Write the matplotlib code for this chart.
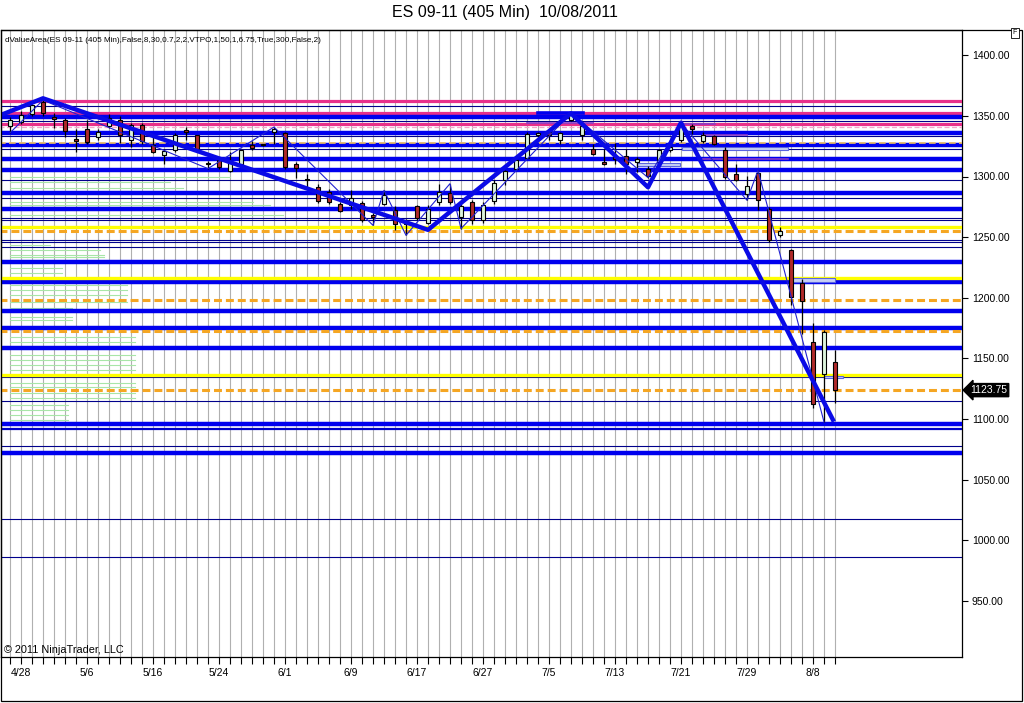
import numpy as np
import matplotlib
matplotlib.use('Agg')
import matplotlib.pyplot as plt
from matplotlib.patches import Rectangle
from matplotlib.transforms import blended_transform_factory

plt.rcParams['font.family'] = ['Liberation Sans', 'DejaVu Sans']

# one 405 min bar per session, 4/27 .. 8/10 (index 0..75)
date_labels = ['4/28', '5/6', '5/16', '5/24', '6/1', '6/9', '6/17', '6/27',
               '7/5', '7/13', '7/21', '7/29', '8/8']
label_bars = [1, 7, 13, 19, 25, 31, 37, 43, 49, 55, 61, 67, 73]

opens = [1341.4, 1345.0, 1351.3, 1361.5, 1349.0, 1347.0, 1331.0, 1339.5, 1332.6, 1342.0,
         1347.0, 1330.4, 1342.2, 1325.7, 1317.5, 1322.2, 1338.0, 1334.0, 1311.0, 1314.0,
         1304.5, 1310.1, 1325.7, 1326.5, 1336.7, 1335.9, 1310.1, 1297.5, 1291.3, 1287.2,
         1277.0, 1276.2, 1278.1, 1268.0, 1277.6, 1272.0, 1263.0, 1275.4, 1261.7, 1279.0,
         1286.4, 1266.6, 1279.0, 1263.9, 1279.8, 1296.9, 1306.5, 1315.6, 1334.5, 1336.7,
         1330.0, 1347.0, 1334.0, 1323.0, 1312.0, 1316.0, 1316.7, 1312.0, 1306.5, 1312.0,
         1321.6, 1330.0, 1341.4, 1329.3, 1333.2, 1321.6, 1301.8, 1285.3, 1302.9, 1273.5,
         1252.1, 1239.7, 1212.1, 1163.5, 1137.4, 1147.0]
highs = [1349.0, 1354.0, 1360.0, 1363.0, 1352.0, 1348.6, 1339.5, 1347.0, 1339.5, 1351.3,
         1349.7, 1344.1, 1344.1, 1332.6, 1323.0, 1336.0, 1340.8, 1334.6, 1312.5, 1316.1,
         1320.2, 1322.2, 1329.3, 1327.0, 1340.8, 1336.7, 1312.0, 1302.4, 1294.1, 1290.0,
         1279.0, 1288.6, 1279.8, 1269.9, 1288.6, 1275.4, 1265.3, 1276.2, 1276.2, 1294.1,
         1294.1, 1277.6, 1280.4, 1279.0, 1296.9, 1305.7, 1316.7, 1336.7, 1337.0, 1338.0,
         1336.7, 1352.4, 1343.6, 1327.2, 1323.0, 1327.6, 1323.0, 1316.1, 1308.4, 1323.0,
         1328.5, 1344.1, 1343.0, 1336.7, 1334.0, 1324.3, 1310.6, 1300.2, 1305.1, 1274.9,
         1258.4, 1240.5, 1215.8, 1179.1, 1173.7, 1157.2]
lows = [1336.0, 1343.6, 1349.7, 1349.7, 1340.3, 1332.6, 1320.2, 1326.6, 1330.0, 1340.3,
        1327.6, 1324.3, 1327.2, 1319.4, 1310.6, 1320.2, 1330.0, 1322.2, 1306.5, 1306.5,
        1303.7, 1309.2, 1321.6, 1325.0, 1327.2, 1306.5, 1299.0, 1291.4, 1278.1, 1277.6,
        1270.7, 1273.5, 1262.5, 1259.7, 1276.2, 1255.6, 1251.5, 1263.9, 1260.6, 1276.2,
        1277.6, 1257.0, 1261.1, 1261.7, 1277.6, 1292.7, 1305.7, 1314.8, 1333.0, 1330.0,
        1327.2, 1345.8, 1329.9, 1317.5, 1309.2, 1310.6, 1302.4, 1303.7, 1299.1, 1310.6,
        1320.2, 1328.5, 1335.4, 1327.6, 1325.7, 1298.3, 1296.3, 1280.4, 1272.1, 1246.0,
        1250.0, 1193.7, 1170.4, 1109.3, 1097.5, 1113.1]
closes = [1346.9, 1350.5, 1358.7, 1352.4, 1347.5, 1337.5, 1329.5, 1328.5, 1336.7, 1348.0,
          1334.0, 1342.2, 1329.3, 1320.2, 1320.8, 1334.0, 1336.5, 1323.0, 1310.0, 1307.9,
          1312.0, 1321.6, 1323.8, 1325.8, 1339.5, 1307.9, 1307.3, 1297.0, 1279.8, 1279.0,
          1271.5, 1282.6, 1263.9, 1266.6, 1284.5, 1261.1, 1261.0, 1266.1, 1273.5, 1287.2,
          1279.0, 1275.4, 1263.9, 1276.8, 1294.7, 1304.3, 1313.4, 1335.4, 1335.5, 1334.0,
          1336.2, 1351.3, 1341.4, 1318.9, 1310.6, 1314.8, 1310.1, 1314.8, 1300.2, 1321.6,
          1324.3, 1342.2, 1339.5, 1334.6, 1326.6, 1299.6, 1296.9, 1291.9, 1280.4, 1247.4,
          1254.8, 1200.7, 1197.3, 1112.0, 1171.7, 1123.75]

# value area / pivot levels
thick_blue = [1349.3, 1335.9, 1326.0, 1314.2, 1305.1, 1286.1, 1272.8, 1229.2, 1213.2,
              1189.0, 1175.2, 1158.3, 1095.5, 1071.6]
thin_navy = [1358.2, 1345.8, 1333.5, 1322.7, 1297.1, 1282.3, 1265.8, 1264.1, 1247.6,
             1246.0, 1242.1, 1134.3, 1114.5, 1077.4, 1017.2, 986.0]
medium_navy = [1091.4]
pink = [1362.3, 1352.6, 1343.1]
pink_dash = [1351.2, 1341.1]
yellow = [1258.3, 1216.0, 1136.0]
orange = [1255.0, 1197.9, 1172.5, 1123.75]
orange_faint = [1327.6]

# VTPO profile on the left (price, bar where the line ends)
profile_prices = [1299.8, 1295.2, 1290.3, 1282.0, 1278.7, 1276.5, 1268.2, 1243.5, 1239.4,
                  1235.2, 1233.3, 1224.3, 1220.1, 1210.5, 1206.4, 1202.2, 1196.7, 1191.3,
                  1184.3, 1181.6, 1167.8, 1163.7, 1159.6, 1152.7, 1148.6, 1144.5, 1140.4,
                  1129.4, 1126.6, 1121.1, 1117.0, 1111.5, 1107.4, 1103.2, 1099.1]
profile_ends = [20, 14.5, 15.7, 22.1, 22.1, 23.6, 24.8, 3.6, 8.2, 8.5, 8.5, 4.7, 4.7,
                10.6, 10.6, 10.6, 10.6, 5.6, 5.6, 5.6, 11.4, 11.4, 11.4, 11.4, 11.4, 11.4,
                11.4, 11.4, 11.4, 11.4, 11.4, 5.3, 5.3, 5.3, 5.3]

# swing lines
zz_bars = [-0.9, 3, 38, 51, 58, 61, 74.9]
zz_prices = [1350.5, 1364.5, 1256.0, 1352.1, 1291.1, 1344.4, 1097.7]
tz_bars = [0, 3, 18, 24, 33, 34, 36, 40, 41, 51, 58, 61, 67, 68, 74]
tz_prices = [1336.0, 1363.0, 1306.5, 1340.8, 1259.7, 1288.6, 1251.5, 1294.1, 1257.0,
             1352.4, 1299.1, 1344.1, 1280.4, 1305.1, 1097.5]

# short session segments (price, start bar, end bar)
seg_blue = [(1352.5, 48.0, 52.1)]
seg_purple = [(1343.8, 47.0, 53.0), (1343.1, 61.2, 64.1), (1334.6, 63.0, 67.0),
              (1314.2, 63.0, 70.7)]
boxes = [(1308.5, 1310.9, 57.0, 60.9), (1321.9, 1324.6, 61.1, 70.7),
         (1213.2, 1216.0, 70.9, 75.0), (1133.5, 1135.6, 74.0, 75.7)]

W, H = 1024, 703
fig = plt.figure(figsize=(W / 100, H / 100), dpi=100)
ax = fig.add_axes([1 / W, (H - 657) / H, 961 / W, 627 / H])

n = len(opens)
bars = np.arange(n)
ax.vlines(bars, 0, 1, transform=blended_transform_factory(ax.transData, ax.transAxes),
          color='#b0b0b0', lw=0.8, zorder=1)

for p, e in zip(profile_prices, profile_ends):
    ax.plot([0, e], [p, p], color='#a8e6a8', lw=0.8, zorder=2)

full = [-2, 100]
for p in thin_navy:
    ax.plot(full, [p, p], color='#00008b', lw=0.8, zorder=3)
for p in medium_navy:
    ax.plot(full, [p, p], color='#0000c8', lw=1.6, zorder=3)
for p in pink_dash:
    ax.plot(full, [p, p], color='#f4a6c8', lw=0.9, ls=(0, (4, 2)), zorder=3)
for p in pink:
    ax.plot(full, [p, p], color='#e8308a', lw=2.3, zorder=3)
for p in thick_blue:
    ax.plot(full, [p, p], color='#0000ee', lw=3.2, zorder=3)
for p in yellow:
    ax.plot(full, [p, p], color='#ffff00', lw=2.4, zorder=3)
for p in orange:
    ax.plot(full, [p, p], color='#f5a623', lw=2.2, ls=(0, (2.6, 1.3)), zorder=4)
for p in orange_faint:
    ax.plot(full, [p, p], color='#f2c060', lw=1.2, ls=(0, (4, 2)), zorder=4)

for lo, hi, x0, x1 in boxes:
    ax.add_patch(Rectangle((x0, lo), x1 - x0, hi - lo, fc='#c8d0f4', ec='#5a64e0',
                           lw=0.8, zorder=5))
for p, x0, x1 in seg_blue:
    ax.plot([x0, x1], [p, p], color='#0000ee', lw=2.6, zorder=5)
for p, x0, x1 in seg_purple:
    ax.plot([x0, x1], [p, p], color='#8a3cc8', lw=1.2, zorder=5)

# candles
o = np.array(opens); c = np.array(closes)
ax.vlines(bars, lows, highs, color='black', lw=0.9, zorder=6)
up = c >= o
body_lo = np.minimum(o, c)
body_h = np.maximum(np.abs(c - o), 0.9)
ax.bar(bars[up], body_h[up], 0.42, bottom=body_lo[up], color='#dcf3dc',
       edgecolor='black', lw=0.8, zorder=7)
ax.bar(bars[~up], body_h[~up], 0.42, bottom=body_lo[~up], color='#b02a2a',
       edgecolor='black', lw=0.8, zorder=7)

ax.plot(tz_bars, tz_prices, color='#2020d0', lw=0.8, zorder=8)
ax.plot(zz_bars, zz_prices, color='#0a0ae6', lw=3.2, zorder=9, solid_capstyle='butt')

ax.set_xlim((1 - 10) / 11, (962 - 10) / 11)
ax.set_ylim(1400 - (657 - 55.3) / 1.212, 1400 + (55.3 - 30) / 1.212)

ax.yaxis.tick_right()
ax.set_yticks(np.arange(950, 1401, 50))
ax.set_yticklabels([f'{v:.2f}' for v in np.arange(950, 1401, 50)])
ax.tick_params(axis='y', length=4, width=0.8, labelsize=7.5, pad=3)
ax.set_xticks(bars)
ax.set_xticklabels([date_labels[label_bars.index(b)] if b in label_bars else '' for b in bars])
ax.tick_params(axis='x', length=5, width=0.8, labelsize=7.5, pad=3)
for s in ax.spines.values():
    s.set_linewidth(0.9)

tr = blended_transform_factory(ax.transAxes, ax.transData)
ax.text(1.0085, 1123.75, '1123.75', transform=tr, color='white', fontsize=7.5,
        va='center', ha='left', zorder=10, clip_on=False,
        bbox=dict(boxstyle='larrow,pad=0.15', fc='black', ec='black'))

ax.text(0.004, 1 - 10 / 627,
        'dValueArea(ES 09-11 (405 Min),False,8,30,0.7,2,2,VTPO,1,50,1,6.75,True,300,False,2)',
        transform=ax.transAxes, fontsize=5.9, va='center', ha='left', zorder=10)
ax.text(0.003, 2 / 627, '\u00a9 2011 NinjaTrader, LLC', transform=ax.transAxes,
        fontsize=7.8, va='bottom', ha='left', zorder=10)

fig.text(505 / W, 1 - 13 / H, 'ES 09-11 (405 Min)  10/08/2011', fontsize=11.5,
         ha='center', va='center')
fig.text(1015 / W, 1 - 33 / H, 'F', fontsize=5, ha='center', va='center',
         bbox=dict(boxstyle='square,pad=0.25', fc='white', ec='black', lw=0.6))
fig.add_artist(Rectangle((1 / W, 2 / H), 1021 / W, 671 / H, transform=fig.transFigure,
                         fill=False, ec='black', lw=0.9))

fig.savefig('out.png', dpi=100)
